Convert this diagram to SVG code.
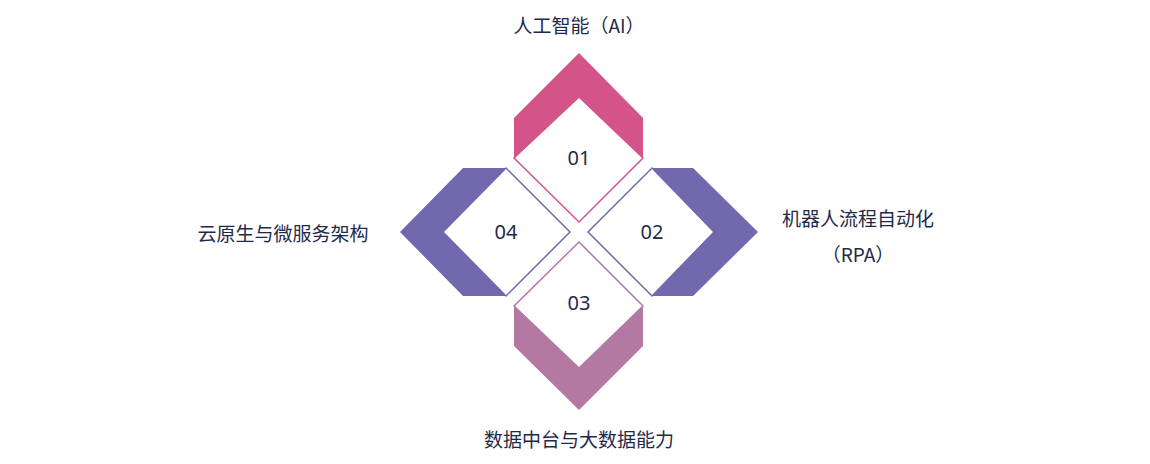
<svg xmlns="http://www.w3.org/2000/svg" width="1150" height="464" viewBox="0 0 1150 464">
<style>
.n{font-family:"Noto Sans","Noto Sans CJK SC",sans-serif;font-size:20px;fill:#1F2A4A;text-anchor:middle}
.l{font-family:"Noto Sans CJK SC","Noto Sans",sans-serif;font-size:19px;fill:#1F2A4A;text-anchor:middle}
.d{fill:#fff;stroke-width:1.5}
</style>
<rect width="1150" height="464" fill="#fff"/>
<g id="n1">
<polygon points="579,53 643,118 643,158 579,97 514,158 514,118" fill="#D4548A"/>
<polygon class="d" points="579,97 643,158 579,222 514,158" stroke="#D4548A"/>
<text class="n" x="579" y="165">01</text>
<text class="l" x="579" y="33">人工智能（AI）</text>
</g>
<g id="n2">
<polygon points="652,168 693,168 758,232 693,296 652,296 714,232" fill="#7168AE"/>
<polygon class="d" points="588,232 652,168 714,232 652,296" stroke="#7168AE"/>
<text class="n" x="652" y="239">02</text>
<text class="l" x="858" y="226">机器人流程自动化</text>
<text class="l" x="858" y="262">（RPA）</text>
</g>
<g id="n3">
<polygon points="514,306 579,368 643,306 643,346 579,410 514,346" fill="#B379A2"/>
<polygon class="d" points="579,242 643,306 579,368 514,306" stroke="#B379A2"/>
<text class="n" x="579" y="310">03</text>
<text class="l" x="579" y="447">数据中台与大数据能力</text>
</g>
<g id="n4">
<polygon points="506,168 463,168 400,232 463,296 506,296 443,232" fill="#7168AE"/>
<polygon class="d" points="570,232 506,168 443,232 506,296" stroke="#7168AE"/>
<text class="n" x="506" y="239">04</text>
<text class="l" x="283" y="241">云原生与微服务架构</text>
</g>
<g id="connectors"/>
</svg>
